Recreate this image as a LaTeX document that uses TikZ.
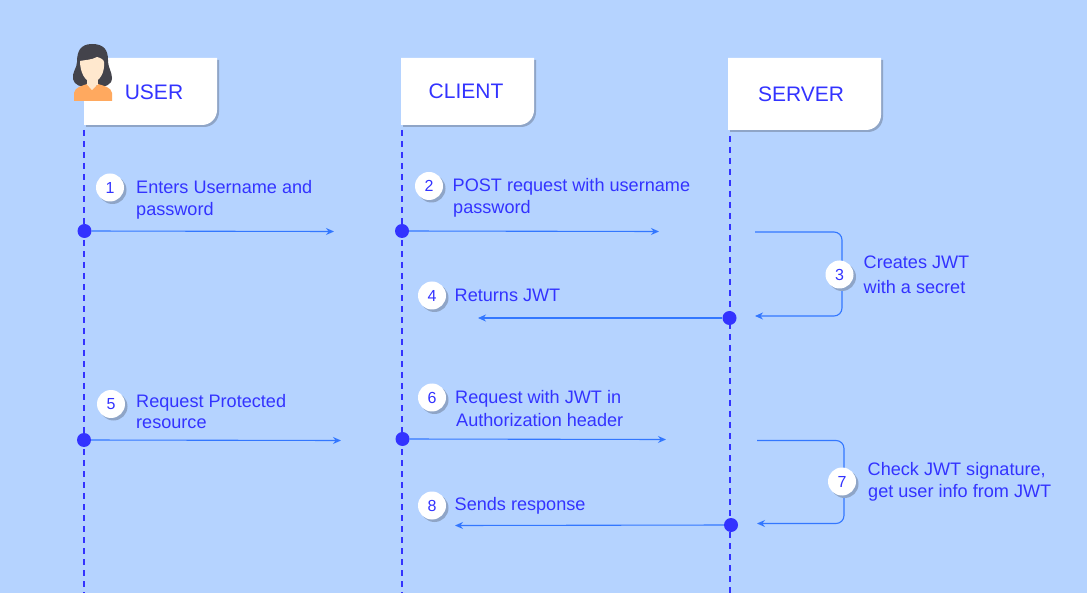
\documentclass[tikz,border=0pt]{standalone}
\usepackage{fontspec}
\setmainfont{Liberation Sans}
\usetikzlibrary{arrows.meta,shadows}
\definecolor{bgc}{HTML}{B5D3FF}
\definecolor{inkc}{HTML}{3333FF}
\definecolor{linec}{HTML}{3377FF}
\definecolor{shadowc}{HTML}{8FA5C7}
\definecolor{hairc}{HTML}{43434B}
\definecolor{skinc}{HTML}{FFE8CE}
\definecolor{shirtc}{HTML}{FFA95F}
\tikzset{
  x=1pt,y=-1pt,
  lifeline/.style={draw=inkc,line width=1.7pt,dash pattern=on 6pt off 5pt},
  msg/.style={draw=linec,line width=1.1pt,-{Stealth[length=8pt,width=7pt]}},
  msgr/.style={draw=linec,line width=1.1pt,rounded corners=8pt,-{Stealth[length=8pt,width=7pt]}},
  dotn/.style={circle,fill=inkc,inner sep=0pt,minimum size=14pt},
  numn/.style={circle,fill=white,inner sep=0pt,minimum size=28pt,text=inkc,font=\fontsize{16}{16}\selectfont,
     general shadow={fill=shadowc,shadow xshift=2.5pt,shadow yshift=-2.5pt}},
  lab/.style={text=inkc,anchor=west,inner sep=0pt,align=left,font=\fontsize{18.1}{22}\selectfont},
  head/.style={text=inkc,font=\fontsize{21}{24}\selectfont,inner sep=0pt},
}
\newcommand{\actorbox}[4]{%
  \fill[shadowc] (#1+2,#2+2) -- (#3+2,#2+2) -- (#3+2,#4-13) arc[start angle=0,end angle=-90,radius=15pt] -- (#1+2,#4+2) -- cycle;
  \fill[white] (#1,#2) -- (#3,#2) -- (#3,#4-15) arc[start angle=0,end angle=-90,radius=15pt] -- (#1,#4) -- cycle;
}
\begin{document}
\begin{tikzpicture}
\useasboundingbox (0,0) rectangle (1087,593);
\fill[bgc] (0,0) rectangle (1087,593);

% lifelines
\coordinate (uT) at (84,130); \coordinate (uB) at (84,593);
\coordinate (cT) at (402,130); \coordinate (cB) at (402,593);
\coordinate (sT) at (730,136); \coordinate (sB) at (730,593);
\draw[lifeline] (uT) -- (uB);
\draw[lifeline] (cT) -- (cB);
\draw[lifeline] (sT) -- (sB);

% header boxes
\actorbox{84}{58}{217}{125}
\actorbox{401}{58}{534}{125}
\actorbox{728}{58}{881}{130}
\node[head] (user) at (154,92) {USER};
\node[head] (client) at (466,91) {CLIENT};
\node[head] (server) at (801,94) {SERVER};

% person icon
\fill[hairc] (92,44) .. controls (80,44) and (77,52) .. (77,62)
  .. controls (77,68) and (72,72) .. (73,79) .. controls (74,85) and (82,88) .. (87,86)
  -- (98,86) .. controls (104,88) and (112,85) .. (112,78)
  .. controls (112,72) and (108,68) .. (108,60) .. controls (108,50) and (104,44) .. (92,44) -- cycle;
\fill[shirtc] (74,101) -- (74,93) .. controls (75,87) and (82,86) .. (87,84)
  -- (92,90) -- (98,84) .. controls (104,86) and (111,87) .. (112,93) -- (112,101) -- cycle;
\fill[skinc] (87,76) rectangle (98,85);
\fill[skinc] (92,90) -- (86.5,84) -- (98,84) -- cycle;
\fill[skinc] (80,61) .. controls (84,60) and (92,60) .. (97,57) .. controls (101,58) and (104,60) .. (104,62)
  .. controls (105,72) and (100,82) .. (92,82) .. controls (85,82) and (80,72) .. (80,61) -- cycle;

% message anchors
\node[dotn] (d1) at (84.5,231) {};
\node[dotn] (d2) at (402,231) {};
\node[dotn] (d4) at (729.5,318) {};
\node[dotn] (d5) at (84,440) {};
\node[dotn] (d6) at (402.5,439) {};
\node[dotn] (d8) at (731,525) {};
\coordinate (e1) at (334,231.5);
\coordinate (e2) at (659,231.5);
\coordinate (e4) at (478,318);
\coordinate (e5) at (341,440.5);
\coordinate (e6) at (666,439.5);
\coordinate (e8) at (455,525.5);
\coordinate (s3) at (755,232);
\coordinate (c3) at (842,232);
\coordinate (f3) at (842,316);
\coordinate (e3) at (755,316);
\coordinate (s7) at (757,440.5);
\coordinate (c7) at (844,440.5);
\coordinate (f7) at (844,523.5);
\coordinate (e7) at (757,523.5);

\draw[msg] (d1) -- (e1);
\draw[msg] (d2) -- (e2);
\draw[msg] (d4) -- (e4);
\draw[msg] (d5) -- (e5);
\draw[msg] (d6) -- (e6);
\draw[msg] (d8) -- (e8);
\draw[msgr] (s3) -- (c3) -- (f3) -- (e3);
\draw[msgr] (s7) -- (c7) -- (f7) -- (e7);

% numbers
\node[numn] (n1) at (110,187.5) {1};
\node[numn] (n2) at (429,186) {2};
\node[numn] (n3) at (839.5,274.5) {3};
\node[numn] (n4) at (432,295.5) {4};
\node[numn] (n5) at (111,404) {5};
\node[numn] (n6) at (432,397.5) {6};
\node[numn] (n7) at (842,481.5) {7};
\node[numn] (n8) at (432,505.5) {8};

% labels
\node[lab] (l1) at (136,199.5) {Enters Username and\\password};
\node[lab] (l2) at (452.5,197.5) {POST request with username\\\hspace*{0.5pt}password};
\node[lab] (l3) at (863.5,275) {Creates JWT\\[3pt]with a secret};
\node[lab] (l4) at (454.5,295) {Returns JWT};
\node[lab] (l5) at (136,412) {Request Protected\\[-1pt]resource};
\node[lab] (l6) at (455,409) {Request with JWT in\\[1pt]\hspace*{1pt}Authorization header};
\node[lab] (l7) at (867.5,482) {Check JWT signature,\\\hspace*{0.5pt}get user info from JWT};
\node[lab] (l8) at (454.5,506) {Sends response};
\end{tikzpicture}
\end{document}
